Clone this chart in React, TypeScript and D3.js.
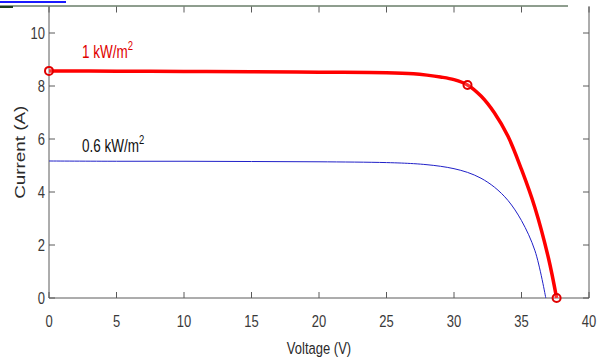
import React from "react";
import * as d3 from "d3";

const voltage1 = [0, 5, 10, 15, 20, 25, 27, 28, 29, 30, 31, 32, 33, 34, 35, 36, 37, 37.6];
const current1 = [8.57, 8.56, 8.55, 8.54, 8.52, 8.5, 8.46, 8.41, 8.34, 8.24, 8.04, 7.62, 6.98, 6.1, 4.85, 3.4, 1.5, 0];
const voltage2 = [0, 5, 10, 15, 20, 25, 27, 28, 29, 30, 31, 32, 33, 34, 35, 36, 36.8];
const current2 = [5.17, 5.16, 5.16, 5.15, 5.14, 5.11, 5.07, 5.03, 4.97, 4.88, 4.74, 4.52, 4.18, 3.68, 2.92, 1.78, 0];
const markerV = [0, 31, 37.6];
const markerI = [8.57, 8.04, 0];
const xTicks = [0, 5, 10, 15, 20, 25, 30, 35, 40];
const yTicks = [0, 2, 4, 6, 8, 10];

const W = 602, H = 360;
const L = 49, R = 589, T = 6.5, B = 298;
const SY = 1.3;

export default function App() {
  const x = d3.scaleLinear().domain([0, 40]).range([L, R]);
  const y = d3.scaleLinear().domain([0, 11]).range([B, T]);
  const line = d3
    .line<[number, number]>()
    .x((d) => x(d[0]))
    .y((d) => y(d[1]))
    .curve(d3.curveCatmullRom.alpha(0.5));
  const s1 = voltage1.map((v, i) => [v, current1[i]] as [number, number]);
  const s2 = voltage2.map((v, i) => [v, current2[i]] as [number, number]);
  const axisColor = "#5a5a5a";
  const tickText = "#3a3a3a";
  const font = "'Liberation Sans', Arial, sans-serif";
  return (
    <div style={{ position: "fixed", left: 0, top: 0 }}>
      <svg width={W} height={H} style={{ display: "block", background: "#fff" }} fontFamily={font}>
        {/* top decorations */}
        <line x1={0} x2={66} y1={2} y2={2} stroke="#1a1aff" strokeWidth={2} />
        <line x1={0} x2={568} y1={6} y2={6} stroke="#1f3d1f" strokeWidth={1} />
        <line x1={0} x2={13} y1={7} y2={7} stroke="#1f3d1f" strokeWidth={2} />
        {/* box */}
        <line x1={L} x2={L} y1={T} y2={B} stroke={axisColor} strokeWidth={1} />
        <line x1={R} x2={R} y1={T} y2={B} stroke={axisColor} strokeWidth={1} />
        <line x1={L} x2={R} y1={B} y2={B} stroke={axisColor} strokeWidth={1} />
        {/* x ticks */}
        {xTicks.map((t) => (
          <g key={"x" + t}>
            <line x1={x(t)} x2={x(t)} y1={B} y2={B - 6} stroke={axisColor} />
            <line x1={x(t)} x2={x(t)} y1={T} y2={T + 6} stroke={axisColor} />
            <text
              transform={`translate(${x(t)}, ${B + 29}) scale(1, ${SY})`}
              textAnchor="middle"
              fontSize={13}
              fill={tickText}
            >
              {t}
            </text>
          </g>
        ))}
        {yTicks.map((t) => (
          <g key={"y" + t}>
            <line x1={L} x2={L + 6} y1={y(t)} y2={y(t)} stroke={axisColor} />
            <line x1={R} x2={R - 6} y1={y(t)} y2={y(t)} stroke={axisColor} />
            <text
              transform={`translate(${L - 4}, ${y(t) + 6}) scale(1, ${SY})`}
              textAnchor="end"
              fontSize={13}
              fill={tickText}
            >
              {t}
            </text>
          </g>
        ))}
        {/* axis labels */}
        <text
          transform={`translate(${(L + R) / 2}, 354) scale(1, ${SY})`}
          textAnchor="middle"
          fontSize={13}
          fill="#2a2a2a"
        >
          Voltage (V)
        </text>
        <text
          transform={`translate(25, ${(T + B) / 2}) scale(1, ${SY}) rotate(-90)`}
          textAnchor="middle"
          fontSize={14.5}
          fill="#2a2a2a"
        >
          Current (A)
        </text>
        {/* curves */}
        <path d={line(s2) || ""} fill="none" stroke="#2020c8" strokeWidth={1} />
        <path d={line(s1) || ""} fill="none" stroke="#ff0000" strokeWidth={3.5} />
        {markerV.map((v, i) => (
          <circle key={"m" + i} cx={x(v)} cy={y(markerI[i])} r={4} fill="#fff" fillOpacity={0.2} stroke="#e00000" strokeWidth={2} />
        ))}
        {/* annotations */}
        <text transform={`translate(82, 58) scale(1, ${SY})`} fontSize={13.5} fill="#e00000">
          1 kW/m<tspan dy={-6} fontSize={9.5}>2</tspan>
        </text>
        <text transform={`translate(82, 152) scale(1, ${SY})`} fontSize={13.5} fill="#111">
          0.6 kW/m<tspan dy={-6} fontSize={9.5}>2</tspan>
        </text>
      </svg>
    </div>
  );
}
